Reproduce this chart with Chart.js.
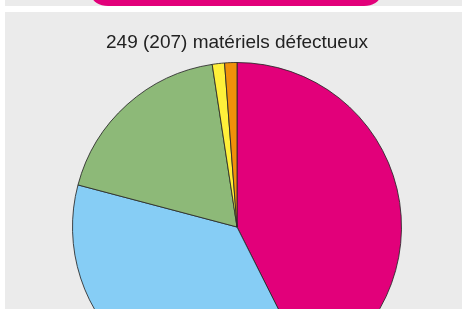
<!DOCTYPE html>
<html>
<head>
<meta charset="utf-8">
<script src="https://cdn.jsdelivr.net/npm/chart.js@4"></script>
<style>
  html, body { margin: 0; padding: 0; background: #ffffff; width: 462px; height: 309px; overflow: hidden; }
  #topStrip { position: absolute; left: 5px; top: 0; width: 457px; height: 6px; background: #ebebeb; overflow: hidden; }
  #topShape { position: absolute; left: 87px; top: -10px; width: 288px; height: 16px; background: #e2007a; border-radius: 0 0 16px 16px / 0 0 10px 10px; }
  #panel { position: absolute; left: 5px; top: 12px; width: 457px; height: 297px; background: #ebebeb; overflow: hidden; }
  #box { position: absolute; left: 0; top: 0; width: 457px; height: 380px; }
</style>
</head>
<body>
<div id="topStrip"><div id="topShape"></div></div>
<div id="panel"><div id="box"><canvas id="c"></canvas></div></div>
<script>
const categories = ["Catégorie A", "Catégorie B", "Catégorie C", "Catégorie D", "Catégorie E"];
const values = [106, 91, 46, 3, 3];
const colors = ["#e2007a", "#86cdf5", "#8db978", "#fff03a", "#f0900a"];
const titleText = "249 (207) matériels défectueux";

new Chart(document.getElementById('c'), {
  type: 'pie',
  data: {
    labels: categories,
    datasets: [{
      data: values,
      backgroundColor: colors,
      borderColor: 'rgba(40,40,40,0.85)',
      borderWidth: 1
    }]
  },
  options: {
    responsive: true,
    maintainAspectRatio: false,
    animation: false,
    layout: { padding: { left: 7, right: 0, top: 0, bottom: 0 } },
    plugins: {
      legend: { display: false },
      tooltip: { enabled: false },
      title: {
        display: true,
        text: titleText,
        color: '#222222',
        font: { family: "'Liberation Sans', Arial, sans-serif", size: 19, weight: 'normal', lineHeight: 1.2 },
        padding: { top: 19.6, bottom: 7.6 }
      }
    }
  }
});
</script>
</body>
</html>
